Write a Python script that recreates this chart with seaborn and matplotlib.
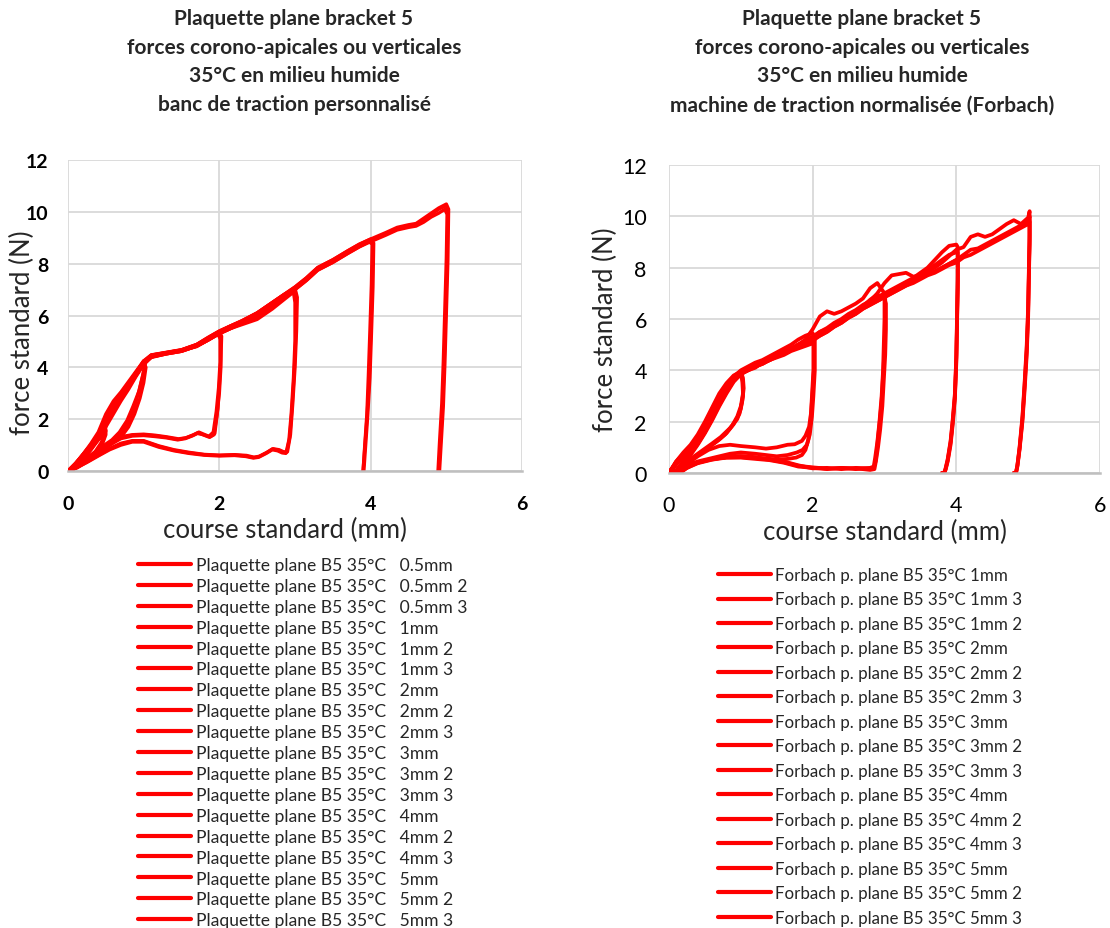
import matplotlib
matplotlib.use("Agg")
import matplotlib.pyplot as plt
import numpy as np
import pandas as pd
import seaborn as sns

# ---------------- left panel : banc de traction personnalise ----------------
left_labels = ["Plaquette plane B5 35°C   0.5mm", "Plaquette plane B5 35°C   0.5mm 2",
               "Plaquette plane B5 35°C   0.5mm 3", "Plaquette plane B5 35°C   1mm",
               "Plaquette plane B5 35°C   1mm 2", "Plaquette plane B5 35°C   1mm 3",
               "Plaquette plane B5 35°C   2mm", "Plaquette plane B5 35°C   2mm 2",
               "Plaquette plane B5 35°C   2mm 3", "Plaquette plane B5 35°C   3mm",
               "Plaquette plane B5 35°C   3mm 2", "Plaquette plane B5 35°C   3mm 3",
               "Plaquette plane B5 35°C   4mm", "Plaquette plane B5 35°C   4mm 2",
               "Plaquette plane B5 35°C   4mm 3", "Plaquette plane B5 35°C   5mm",
               "Plaquette plane B5 35°C   5mm 2", "Plaquette plane B5 35°C   5mm 3"]

l05a_x = [0, 0.08, 0.16, 0.25, 0.33, 0.42, 0.5, 0.48, 0.42, 0.33, 0.22, 0.12, 0]
l05a_y = [0, 0.2, 0.45, 0.8, 1.1, 1.45, 1.75, 1.3, 0.85, 0.55, 0.3, 0.12, 0]
l05b_x = [0, 0.1, 0.2, 0.3, 0.4, 0.5, 0.5, 0.45, 0.35, 0.25, 0.15, 0.05, 0]
l05b_y = [0, 0.3, 0.6, 0.95, 1.3, 1.6, 1.4, 1.0, 0.65, 0.4, 0.2, 0.05, 0]
l05c_x = [0, 0.1, 0.2, 0.3, 0.4, 0.48, 0.5, 0.44, 0.36, 0.26, 0.16, 0.06, 0]
l05c_y = [0, 0.25, 0.55, 0.85, 1.2, 1.5, 1.55, 1.1, 0.75, 0.45, 0.22, 0.06, 0]

l1a_x = [0, 0.1, 0.2, 0.3, 0.4, 0.5, 0.6, 0.7, 0.8, 0.9, 1.0, 1.02, 0.98, 0.93, 0.87, 0.8, 0.7, 0.6, 0.5, 0.4, 0.3, 0.2, 0.1, 0]
l1a_y = [0, 0.25, 0.6, 0.95, 1.4, 2.05, 2.55, 2.95, 3.35, 3.8, 4.2, 4.1, 3.6, 3.0, 2.4, 1.9, 1.4, 1.15, 0.95, 0.75, 0.55, 0.35, 0.15, 0]
l1b_x = [0, 0.1, 0.2, 0.3, 0.4, 0.5, 0.6, 0.7, 0.8, 0.9, 1.0, 1.03, 1.0, 0.95, 0.88, 0.8, 0.7, 0.6, 0.5, 0.4, 0.3, 0.2, 0.1, 0]
l1b_y = [0, 0.2, 0.5, 0.85, 1.25, 1.8, 2.35, 2.85, 3.3, 3.75, 4.15, 4.0, 3.4, 2.8, 2.2, 1.7, 1.3, 1.1, 0.9, 0.7, 0.5, 0.3, 0.12, 0]
l1c_x = [0, 0.1, 0.2, 0.3, 0.4, 0.5, 0.6, 0.7, 0.8, 0.9, 1.0, 1.02, 0.99, 0.94, 0.86, 0.78, 0.68, 0.58, 0.48, 0.38, 0.28, 0.18, 0.08, 0]
l1c_y = [0, 0.3, 0.65, 1.05, 1.5, 2.2, 2.7, 3.05, 3.45, 3.85, 4.25, 4.15, 3.7, 3.1, 2.5, 1.95, 1.5, 1.2, 1.0, 0.78, 0.58, 0.38, 0.18, 0]

l2a_x = [0, 0.1, 0.2, 0.3, 0.4, 0.5, 0.6, 0.7, 0.8, 0.9, 1.0, 1.1, 1.3, 1.5, 1.7, 1.85, 2.0, 2.02, 2.02, 2.0, 1.97, 1.93, 1.87, 1.8, 1.72, 1.65, 1.55, 1.45, 1.3, 1.15, 1.0, 0.85, 0.7, 0.55, 0.4, 0.3, 0.2, 0.1, 0]
l2a_y = [0, 0.25, 0.6, 0.95, 1.35, 2.0, 2.5, 2.9, 3.3, 3.75, 4.2, 4.45, 4.55, 4.65, 4.85, 5.1, 5.35, 5.0, 4.0, 3.0, 2.2, 1.4, 1.3, 1.38, 1.48, 1.38, 1.27, 1.22, 1.3, 1.36, 1.4, 1.38, 1.3, 1.05, 0.75, 0.55, 0.35, 0.15, 0]
l2b_x = [0, 0.1, 0.2, 0.3, 0.4, 0.5, 0.6, 0.7, 0.8, 0.9, 1.0, 1.1, 1.3, 1.5, 1.7, 1.85, 1.98, 2.01, 2.01, 1.99, 1.96, 1.92, 1.86, 1.79, 1.71, 1.64, 1.55, 1.45, 1.3, 1.15, 1.0, 0.85, 0.7, 0.55, 0.4, 0.3, 0.2, 0.1, 0]
l2b_y = [0, 0.2, 0.55, 0.9, 1.3, 1.85, 2.4, 2.85, 3.25, 3.7, 4.15, 4.4, 4.55, 4.65, 4.8, 5.05, 5.3, 5.1, 4.2, 3.2, 2.3, 1.5, 1.33, 1.4, 1.45, 1.35, 1.25, 1.2, 1.28, 1.33, 1.37, 1.35, 1.25, 1.0, 0.72, 0.52, 0.32, 0.14, 0]
l2c_x = [0, 0.1, 0.2, 0.3, 0.4, 0.5, 0.6, 0.7, 0.8, 0.9, 1.0, 1.1, 1.3, 1.5, 1.7, 1.85, 2.0, 2.03, 2.02, 2.0, 1.98, 1.94, 1.88, 1.81, 1.73, 1.66, 1.56, 1.46, 1.3, 1.15, 1.0, 0.85, 0.7, 0.55, 0.4, 0.3, 0.2, 0.1, 0]
l2c_y = [0, 0.28, 0.62, 1.0, 1.4, 2.1, 2.6, 3.0, 3.4, 3.8, 4.25, 4.48, 4.58, 4.68, 4.88, 5.12, 5.38, 5.2, 4.3, 3.3, 2.4, 1.45, 1.32, 1.4, 1.5, 1.4, 1.28, 1.24, 1.32, 1.38, 1.42, 1.4, 1.32, 1.08, 0.78, 0.56, 0.36, 0.16, 0]

l3a_x = [0, 0.1, 0.2, 0.3, 0.4, 0.5, 0.6, 0.7, 0.8, 0.9, 1.0, 1.1, 1.3, 1.5, 1.7, 1.85, 2.0, 2.15, 2.3, 2.5, 2.7, 2.85, 3.0, 3.02, 3.01, 2.99, 2.96, 2.93, 2.89, 2.84, 2.78, 2.7, 2.62, 2.52, 2.45, 2.35, 2.2, 2.0, 1.8, 1.6, 1.4, 1.2, 1.0, 0.85, 0.7, 0.55, 0.4, 0.25, 0.12, 0]
l3a_y = [0, 0.2, 0.5, 0.85, 1.25, 1.8, 2.3, 2.8, 3.25, 3.7, 4.15, 4.4, 4.55, 4.65, 4.85, 5.1, 5.35, 5.55, 5.7, 6.0, 6.4, 6.7, 7.0, 6.6, 5.2, 3.8, 2.4, 1.3, 0.72, 0.72, 0.8, 0.85, 0.7, 0.55, 0.52, 0.58, 0.62, 0.6, 0.63, 0.7, 0.8, 0.95, 1.15, 1.15, 1.05, 0.85, 0.6, 0.35, 0.15, 0]
l3b_x = [0, 0.1, 0.2, 0.3, 0.4, 0.5, 0.6, 0.7, 0.8, 0.9, 1.0, 1.1, 1.3, 1.5, 1.7, 1.85, 2.0, 2.15, 2.3, 2.5, 2.7, 2.85, 2.98, 3.0, 3.0, 2.98, 2.95, 2.92, 2.88, 2.83, 2.77, 2.7, 2.62, 2.52, 2.45, 2.35, 2.2, 2.0, 1.8, 1.6, 1.4, 1.2, 1.0, 0.85, 0.7, 0.55, 0.4, 0.25, 0.12, 0]
l3b_y = [0, 0.15, 0.45, 0.8, 1.2, 1.7, 2.2, 2.7, 3.15, 3.65, 4.1, 4.38, 4.52, 4.62, 4.82, 5.05, 5.3, 5.5, 5.65, 5.85, 6.25, 6.6, 6.9, 6.5, 5.0, 3.6, 2.2, 1.2, 0.68, 0.7, 0.78, 0.82, 0.68, 0.53, 0.5, 0.56, 0.6, 0.58, 0.61, 0.68, 0.78, 0.92, 1.12, 1.12, 1.0, 0.82, 0.58, 0.33, 0.14, 0]
l3c_x = [0, 0.1, 0.2, 0.3, 0.4, 0.5, 0.6, 0.7, 0.8, 0.9, 1.0, 1.1, 1.3, 1.5, 1.7, 1.85, 2.0, 2.15, 2.3, 2.5, 2.7, 2.85, 3.0, 3.03, 3.02, 3.0, 2.97, 2.94, 2.9, 2.85, 2.79, 2.71, 2.63, 2.53, 2.46, 2.36, 2.2, 2.0, 1.8, 1.6, 1.4, 1.2, 1.0, 0.85, 0.7, 0.55, 0.4, 0.25, 0.12, 0]
l3c_y = [0, 0.22, 0.55, 0.9, 1.3, 1.9, 2.4, 2.85, 3.3, 3.75, 4.2, 4.42, 4.56, 4.66, 4.86, 5.12, 5.38, 5.6, 5.78, 6.1, 6.5, 6.8, 7.05, 6.7, 5.4, 4.0, 2.6, 1.4, 0.74, 0.74, 0.82, 0.86, 0.72, 0.57, 0.53, 0.6, 0.63, 0.61, 0.64, 0.72, 0.82, 0.97, 1.17, 1.17, 1.07, 0.87, 0.62, 0.36, 0.16, 0]

l4a_x = [0, 0.1, 0.2, 0.3, 0.4, 0.5, 0.6, 0.7, 0.8, 0.9, 1.0, 1.1, 1.3, 1.5, 1.7, 1.85, 2.0, 2.15, 2.3, 2.5, 2.7, 2.85, 3.0, 3.15, 3.3, 3.5, 3.7, 3.85, 4.0, 4.03, 4.02, 4.0, 3.98, 3.95, 3.92, 3.9]
l4a_y = [0, 0.25, 0.6, 0.95, 1.35, 1.95, 2.5, 2.9, 3.3, 3.75, 4.2, 4.45, 4.55, 4.65, 4.85, 5.1, 5.35, 5.55, 5.75, 6.05, 6.45, 6.75, 7.05, 7.4, 7.8, 8.1, 8.45, 8.7, 8.9, 8.7, 7.0, 5.2, 3.5, 2.0, 0.8, 0]
l4b_x = [0, 0.1, 0.2, 0.3, 0.4, 0.5, 0.6, 0.7, 0.8, 0.9, 1.0, 1.1, 1.3, 1.5, 1.7, 1.85, 2.0, 2.15, 2.3, 2.5, 2.7, 2.85, 3.0, 3.15, 3.3, 3.5, 3.7, 3.85, 3.98, 4.02, 4.01, 3.99, 3.97, 3.95, 3.92, 3.9]
l4b_y = [0, 0.2, 0.5, 0.85, 1.25, 1.8, 2.35, 2.8, 3.25, 3.7, 4.15, 4.4, 4.52, 4.62, 4.82, 5.05, 5.3, 5.5, 5.7, 5.95, 6.35, 6.7, 7.0, 7.35, 7.75, 8.05, 8.4, 8.65, 8.85, 8.75, 7.2, 5.4, 3.7, 2.2, 0.9, 0]
l4c_x = [0, 0.1, 0.2, 0.3, 0.4, 0.5, 0.6, 0.7, 0.8, 0.9, 1.0, 1.1, 1.3, 1.5, 1.7, 1.85, 2.0, 2.15, 2.3, 2.5, 2.7, 2.85, 3.0, 3.15, 3.3, 3.5, 3.7, 3.85, 4.0, 4.04, 4.03, 4.01, 3.99, 3.96, 3.93, 3.91]
l4c_y = [0, 0.28, 0.65, 1.0, 1.4, 2.05, 2.55, 2.95, 3.35, 3.8, 4.22, 4.47, 4.57, 4.67, 4.88, 5.15, 5.4, 5.6, 5.8, 6.1, 6.5, 6.8, 7.1, 7.45, 7.85, 8.15, 8.5, 8.75, 8.95, 8.8, 7.1, 5.3, 3.6, 2.1, 0.85, 0]

l5a_x = [0, 0.1, 0.2, 0.3, 0.4, 0.5, 0.6, 0.7, 0.8, 0.9, 1.0, 1.1, 1.3, 1.5, 1.7, 1.85, 2.0, 2.15, 2.3, 2.5, 2.7, 2.85, 3.0, 3.15, 3.3, 3.5, 3.7, 3.85, 4.0, 4.2, 4.35, 4.5, 4.6, 4.7, 4.8, 4.9, 5.0, 5.02, 5.01, 4.99, 4.97, 4.95, 4.92, 4.9]
l5a_y = [0, 0.25, 0.6, 0.95, 1.35, 1.95, 2.5, 2.9, 3.3, 3.75, 4.2, 4.45, 4.55, 4.65, 4.85, 5.1, 5.35, 5.55, 5.75, 6.05, 6.45, 6.75, 7.05, 7.4, 7.8, 8.1, 8.45, 8.7, 8.9, 9.15, 9.35, 9.45, 9.5, 9.7, 9.9, 10.1, 10.25, 10.0, 8.0, 6.0, 4.0, 2.5, 1.0, 0]
l5b_x = [0, 0.1, 0.2, 0.3, 0.4, 0.5, 0.6, 0.7, 0.8, 0.9, 1.0, 1.1, 1.3, 1.5, 1.7, 1.85, 2.0, 2.15, 2.3, 2.5, 2.7, 2.85, 3.0, 3.15, 3.3, 3.5, 3.7, 3.85, 4.0, 4.2, 4.35, 4.5, 4.6, 4.7, 4.8, 4.9, 4.98, 5.01, 5.0, 4.98, 4.96, 4.94, 4.91, 4.89]
l5b_y = [0, 0.2, 0.5, 0.85, 1.25, 1.8, 2.35, 2.8, 3.25, 3.7, 4.15, 4.4, 4.52, 4.62, 4.82, 5.05, 5.3, 5.5, 5.7, 5.95, 6.35, 6.7, 7.0, 7.35, 7.75, 8.05, 8.4, 8.65, 8.85, 9.1, 9.3, 9.4, 9.45, 9.6, 9.8, 9.95, 10.1, 9.9, 8.2, 6.2, 4.2, 2.6, 1.1, 0]
l5c_x = [0, 0.1, 0.2, 0.3, 0.4, 0.5, 0.6, 0.7, 0.8, 0.9, 1.0, 1.1, 1.3, 1.5, 1.7, 1.85, 2.0, 2.15, 2.3, 2.5, 2.7, 2.85, 3.0, 3.15, 3.3, 3.5, 3.7, 3.85, 4.0, 4.2, 4.35, 4.5, 4.6, 4.7, 4.8, 4.9, 5.0, 5.03, 5.02, 5.0, 4.98, 4.96, 4.93, 4.91]
l5c_y = [0, 0.28, 0.65, 1.0, 1.4, 2.05, 2.55, 2.95, 3.35, 3.8, 4.22, 4.47, 4.57, 4.67, 4.88, 5.15, 5.4, 5.6, 5.8, 6.1, 6.5, 6.8, 7.1, 7.45, 7.85, 8.15, 8.5, 8.75, 8.95, 9.2, 9.4, 9.5, 9.55, 9.75, 9.95, 10.15, 10.3, 10.1, 8.1, 6.1, 4.1, 2.5, 1.0, 0]

left_x = [l05a_x, l05b_x, l05c_x, l1a_x, l1b_x, l1c_x, l2a_x, l2b_x, l2c_x,
          l3a_x, l3b_x, l3c_x, l4a_x, l4b_x, l4c_x, l5a_x, l5b_x, l5c_x]
left_y = [l05a_y, l05b_y, l05c_y, l1a_y, l1b_y, l1c_y, l2a_y, l2b_y, l2c_y,
          l3a_y, l3b_y, l3c_y, l4a_y, l4b_y, l4c_y, l5a_y, l5b_y, l5c_y]

# ---------------- right panel : machine de traction (Forbach) ----------------
right_labels = ["Forbach p. plane B5 35°C 1mm", "Forbach p. plane B5 35°C 1mm 3",
                "Forbach p. plane B5 35°C 1mm 2", "Forbach p. plane B5 35°C 2mm",
                "Forbach p. plane B5 35°C 2mm 2", "Forbach p. plane B5 35°C 2mm 3",
                "Forbach p. plane B5 35°C 3mm", "Forbach p. plane B5 35°C 3mm 2",
                "Forbach p. plane B5 35°C 3mm 3", "Forbach p. plane B5 35°C 4mm",
                "Forbach p. plane B5 35°C 4mm 2", "Forbach p. plane B5 35°C 4mm 3",
                "Forbach p. plane B5 35°C 5mm", "Forbach p. plane B5 35°C 5mm 2",
                "Forbach p. plane B5 35°C 5mm 3"]

# sampling positions of the loading phase (mm)
grid_x = [0.0, 0.1, 0.2, 0.3, 0.4, 0.5, 0.6, 0.7, 0.8, 0.9, 1.0, 1.1, 1.2, 1.3, 1.4, 1.5, 1.6,
          1.7, 1.8, 1.9, 2.0, 2.1, 2.2, 2.3, 2.4, 2.5, 2.6, 2.7, 2.8, 2.9, 3.0, 3.1, 3.2, 3.3,
          3.4, 3.5, 3.6, 3.7, 3.8, 3.9, 4.0, 4.1, 4.2, 4.3, 4.4, 4.5, 4.6, 4.7, 4.8, 4.9, 5.0]

r1a_load = [0, 0.45, 0.8, 1.1, 1.5, 2.0, 2.55, 3.1, 3.5, 3.8, 3.95]
r1a_back_x = [1.03, 1.04, 1.02, 0.98, 0.9, 0.8, 0.7, 0.6, 0.5, 0.4, 0.3, 0.2, 0.13, 0.12]
r1a_back_y = [3.7, 3.3, 2.8, 2.3, 1.9, 1.55, 1.3, 1.1, 0.9, 0.7, 0.5, 0.3, 0.1, 0]
r1c_load = [0, 0.05, 0.4, 0.75, 1.15, 1.6, 2.1, 2.7, 3.2, 3.6, 3.85]
r1c_back_x = [1.02, 1.03, 1.0, 0.95, 0.88, 0.78, 0.65, 0.5, 0.35, 0.2, 0.14]
r1c_back_y = [3.6, 3.1, 2.6, 2.2, 1.85, 1.5, 1.2, 0.9, 0.6, 0.3, 0]
r1b_load = [0, 0.4, 0.7, 1.0, 1.35, 1.85, 2.4, 2.95, 3.4, 3.75, 3.95]
r1b_back_x = [1.03, 1.03, 1.0, 0.95, 0.85, 0.72, 0.6, 0.45, 0.3, 0.18, 0.12]
r1b_back_y = [3.5, 3.0, 2.5, 2.1, 1.75, 1.4, 1.15, 0.85, 0.55, 0.25, 0]

r2a_load = [0, 0.35, 0.65, 0.9, 1.25, 1.7, 2.2, 2.75, 3.25, 3.65, 3.9, 4.0, 4.15, 4.25, 4.4, 4.5, 4.6, 4.75, 4.85, 4.95, 5.05]
r2a_back_x = [2.02, 2.02, 2.0, 1.98, 1.95, 1.9, 1.85, 1.75, 1.65, 1.5, 1.35, 1.2, 1.0, 0.85, 0.7, 0.55, 0.4, 0.3, 0.2, 0.13]
r2a_back_y = [5.0, 4.2, 3.2, 2.4, 1.8, 1.45, 1.25, 1.12, 1.1, 1.0, 0.95, 1.0, 1.05, 1.1, 1.05, 0.9, 0.65, 0.45, 0.25, 0]
r2b_load = [0, 0.45, 0.75, 1.0, 1.35, 1.8, 2.3, 2.85, 3.35, 3.75, 4.0, 4.15, 4.3, 4.4, 4.55, 4.7, 4.85, 5.0, 5.2, 5.35, 5.45]
r2b_back_x = [2.03, 2.03, 2.01, 1.99, 1.96, 1.92, 1.86, 1.78, 1.65, 1.5, 1.35, 1.2, 1.0, 0.85, 0.7, 0.55, 0.4, 0.3, 0.2, 0.12]
r2b_back_y = [5.2, 4.0, 3.0, 2.2, 1.5, 1.1, 0.9, 0.8, 0.7, 0.65, 0.7, 0.75, 0.8, 0.75, 0.65, 0.55, 0.45, 0.35, 0.2, 0]
r2c_load = [0, 0.05, 0.35, 0.7, 1.1, 1.55, 2.05, 2.6, 3.1, 3.55, 3.85, 4.0, 4.1, 4.3, 4.4, 4.55, 4.65, 4.8, 4.9, 5.05, 5.2]
r2c_back_x = [2.01, 2.01, 1.99, 1.97, 1.94, 1.9, 1.85, 1.77, 1.65, 1.5, 1.35, 1.2, 1.0, 0.85, 0.7, 0.55, 0.4, 0.3, 0.2, 0.14]
r2c_back_y = [5.0, 4.0, 3.0, 2.0, 1.3, 0.9, 0.7, 0.6, 0.55, 0.52, 0.55, 0.62, 0.66, 0.64, 0.58, 0.5, 0.4, 0.3, 0.15, 0]

r3a_load = [0, 0.4, 0.7, 0.95, 1.3, 1.75, 2.25, 2.8, 3.3, 3.7, 3.95, 4.1, 4.2, 4.35, 4.45, 4.6, 4.75, 4.85, 5.0, 5.15, 5.3, 5.5, 5.6, 5.8, 5.95, 6.15, 6.3, 6.5, 6.6, 6.75, 6.85]
r3a_back_x = [3.0, 3.0, 2.99, 2.98, 2.96, 2.93, 2.9, 2.87, 2.85, 2.8, 2.6, 2.4, 2.2, 2.0, 1.8, 1.6, 1.4, 1.2, 1.0, 0.8, 0.6, 0.4, 0.25, 0.14]
r3a_back_y = [6.9, 6.0, 5.0, 4.0, 3.0, 2.0, 1.2, 0.6, 0.25, 0.2, 0.15, 0.2, 0.15, 0.2, 0.25, 0.4, 0.5, 0.55, 0.6, 0.6, 0.55, 0.4, 0.2, 0]
r3b_load = [0, 0.35, 0.65, 0.95, 1.3, 1.7, 2.2, 2.7, 3.2, 3.65, 3.9, 4.05, 4.15, 4.3, 4.45, 4.55, 4.7, 4.8, 5.0, 5.2, 5.6, 6.1, 6.3, 6.2, 6.3, 6.45, 6.6, 6.8, 7.2, 7.4, 7.0]
r3b_back_x = [3.01, 3.01, 3.0, 2.98, 2.96, 2.93, 2.9, 2.88, 2.85, 2.8, 2.6, 2.4, 2.2, 2.0, 1.8, 1.6, 1.4, 1.2, 1.0, 0.8, 0.6, 0.4, 0.25, 0.13]
r3b_back_y = [6.8, 5.8, 4.8, 3.8, 2.8, 1.9, 1.1, 0.5, 0.2, 0.18, 0.2, 0.15, 0.2, 0.18, 0.3, 0.45, 0.55, 0.6, 0.65, 0.62, 0.55, 0.42, 0.22, 0]
r3c_load = [0, 0.1, 0.45, 0.8, 1.15, 1.6, 2.1, 2.65, 3.15, 3.6, 3.85, 4.0, 4.15, 4.25, 4.4, 4.55, 4.65, 4.8, 4.95, 5.1, 5.25, 5.4, 5.6, 5.75, 5.95, 6.1, 6.3, 6.5, 6.75, 6.95, 6.8]
r3c_back_x = [3.02, 3.02, 3.01, 2.99, 2.97, 2.94, 2.91, 2.88, 2.86, 2.8, 2.6, 2.4, 2.2, 2.0, 1.8, 1.6, 1.4, 1.2, 1.0, 0.8, 0.6, 0.4, 0.25, 0.15]
r3c_back_y = [6.6, 5.6, 4.6, 3.6, 2.6, 1.7, 1.0, 0.45, 0.15, 0.12, 0.18, 0.2, 0.17, 0.22, 0.28, 0.42, 0.52, 0.58, 0.62, 0.6, 0.52, 0.38, 0.2, 0]

r4a_load = [0, 0.4, 0.7, 0.95, 1.3, 1.75, 2.25, 2.8, 3.3, 3.7, 3.95, 4.1, 4.2, 4.35, 4.45, 4.6, 4.7, 4.85, 4.95, 5.1, 5.25, 5.45, 5.6, 5.8, 5.95, 6.15, 6.3, 6.5, 6.7, 7.0, 7.4, 7.7, 7.75, 7.8, 7.65, 7.7, 7.9, 8.1, 8.3, 8.5, 8.6]
r4b_load = [0, 0.35, 0.65, 0.9, 1.25, 1.7, 2.2, 2.75, 3.25, 3.65, 3.9, 4.05, 4.15, 4.3, 4.4, 4.55, 4.65, 4.8, 4.9, 5.05, 5.2, 5.35, 5.5, 5.7, 5.85, 6.05, 6.2, 6.4, 6.55, 6.7, 6.85, 7.0, 7.15, 7.3, 7.45, 7.6, 7.75, 7.85, 8.0, 8.15, 8.3]
r4c_load = [0, 0.05, 0.4, 0.75, 1.15, 1.6, 2.15, 2.7, 3.2, 3.6, 3.9, 4.05, 4.2, 4.3, 4.45, 4.6, 4.7, 4.85, 5.0, 5.1, 5.3, 5.5, 5.65, 5.85, 6.0, 6.2, 6.35, 6.55, 6.7, 6.85, 7.0, 7.15, 7.3, 7.45, 7.6, 7.8, 8.0, 8.3, 8.6, 8.85, 8.9]
r4_back_x = [4.02, 4.02, 4.01, 4.0, 3.98, 3.95, 3.92, 3.88, 3.85, 3.83, 3.8]
r4a_back_y = [8.6, 7.5, 6.0, 4.5, 3.0, 2.0, 1.2, 0.5, 0.15, 0, 0]
r4b_back_y = [8.3, 7.2, 5.8, 4.3, 2.9, 1.9, 1.1, 0.45, 0.12, 0, 0]
r4c_back_y = [8.8, 7.7, 6.2, 4.6, 3.1, 2.1, 1.25, 0.55, 0.18, 0, 0]

r5a_load = [0, 0.4, 0.7, 0.95, 1.3, 1.75, 2.25, 2.8, 3.3, 3.7, 3.95, 4.1, 4.2, 4.35, 4.45, 4.6, 4.7, 4.85, 4.95, 5.1, 5.2, 5.4, 5.55, 5.75, 5.9, 6.1, 6.25, 6.45, 6.6, 6.75, 6.9, 7.05, 7.2, 7.35, 7.45, 7.6, 7.75, 7.85, 8.0, 8.15, 8.3, 8.5, 8.7, 8.75, 8.9, 9.05, 9.2, 9.35, 9.5, 9.65, 9.8]
r5b_load = [0, 0.35, 0.65, 0.9, 1.25, 1.7, 2.2, 2.75, 3.25, 3.65, 3.9, 4.05, 4.15, 4.3, 4.4, 4.55, 4.65, 4.8, 4.9, 5.05, 5.15, 5.35, 5.5, 5.7, 5.85, 6.05, 6.2, 6.4, 6.55, 6.7, 6.85, 7.0, 7.15, 7.3, 7.4, 7.55, 7.7, 7.8, 7.95, 8.1, 8.2, 8.4, 8.5, 8.65, 8.8, 8.95, 9.1, 9.25, 9.4, 9.55, 9.7]
r5c_load = [0, 0.1, 0.45, 0.8, 1.2, 1.65, 2.15, 2.7, 3.2, 3.6, 3.9, 4.05, 4.2, 4.3, 4.45, 4.6, 4.7, 4.85, 5.0, 5.15, 5.3, 5.45, 5.6, 5.8, 5.95, 6.15, 6.3, 6.5, 6.65, 6.8, 6.95, 7.1, 7.25, 7.4, 7.55, 7.7, 7.85, 8.0, 8.2, 8.45, 8.7, 8.8, 9.2, 9.3, 9.2, 9.3, 9.5, 9.7, 9.85, 9.7, 9.95]
r5_back_x = [5.02, 5.02, 5.01, 5.0, 4.98, 4.95, 4.92, 4.88, 4.85, 4.83, 4.8]
r5a_back_y = [10.0, 9.1, 7.8, 6.3, 4.8, 3.4, 2.1, 0.95, 0.3, 0, 0]
r5b_back_y = [9.8, 8.9, 7.6, 6.1, 4.6, 3.2, 2.0, 0.9, 0.25, 0, 0]
r5c_back_y = [10.2, 9.3, 8.0, 6.5, 5.0, 3.5, 2.2, 1.0, 0.3, 0, 0]

right_load = [r1a_load, r1c_load, r1b_load, r2a_load, r2b_load, r2c_load,
              r3a_load, r3b_load, r3c_load, r4a_load, r4b_load, r4c_load,
              r5a_load, r5b_load, r5c_load]
right_back_x = [r1a_back_x, r1c_back_x, r1b_back_x, r2a_back_x, r2b_back_x, r2c_back_x,
                r3a_back_x, r3b_back_x, r3c_back_x, r4_back_x, r4_back_x, r4_back_x,
                r5_back_x, r5_back_x, r5_back_x]
right_back_y = [r1a_back_y, r1c_back_y, r1b_back_y, r2a_back_y, r2b_back_y, r2c_back_y,
                r3a_back_y, r3b_back_y, r3c_back_y, r4a_back_y, r4b_back_y, r4c_back_y,
                r5a_back_y, r5b_back_y, r5c_back_y]

right_x = [grid_x[:len(ld)] + bx for ld, bx in zip(right_load, right_back_x)]
right_y = [ld + by for ld, by in zip(right_load, right_back_y)]

# ---------------- drawing ----------------
sns.set_theme(style="white")
plt.rcParams["font.family"] = ["Lato", "DejaVu Sans"]

RED = "#ff0000"
GRID = "#d9d9d9"


def long_table(labels, xs, ys):
    parts = []
    for lab, x, y in zip(labels, xs, ys):
        parts.append(pd.DataFrame({"x": x, "y": y, "serie": lab}))
    return pd.concat(parts, ignore_index=True)


def panel(ax, labels, xs, ys, bold_ticks, tick_pad_x, tick_pad_y, tick_size, lw):
    df = long_table(labels, xs, ys)
    sns.lineplot(data=df, x="x", y="y", hue="serie", hue_order=labels,
                 palette=[RED] * len(labels), sort=False, estimator=None,
                 lw=lw, ax=ax, legend=True)
    for ln in ax.get_lines():
        ln.set_solid_joinstyle("round")
        ln.set_solid_capstyle("round")
    ax.set_xlim(0, 6)
    ax.set_ylim(0, 12)
    ax.set_xticks([0, 2, 4, 6])
    ax.set_yticks([0, 2, 4, 6, 8, 10, 12])
    ax.grid(True, color=GRID, lw=1.3)
    ax.set_axisbelow(True)
    for s in ["top", "right", "left"]:
        ax.spines[s].set_visible(False)
    ax.spines["bottom"].set_color("#bfbfbf")
    ax.spines["bottom"].set_linewidth(1.8)
    ax.tick_params(axis="both", length=0, labelsize=tick_size, colors="black")
    ax.tick_params(axis="x", pad=tick_pad_x)
    ax.tick_params(axis="y", pad=tick_pad_y)
    ax.set_xlabel("")
    ax.set_ylabel("")
    if bold_ticks:
        for t in ax.get_xticklabels() + ax.get_yticklabels():
            t.set_fontweight("bold")
    handles, labs = ax.get_legend_handles_labels()
    ax.get_legend().remove()
    return handles, labs


fig = plt.figure(figsize=(11.1, 9.29), dpi=100)
W, H = 1110, 929
axL = fig.add_axes([68 / W, 1 - 472 / H, (522 - 68) / W, (472 - 161) / H])
axR = fig.add_axes([669 / W, 1 - 474 / H, (1100 - 669) / W, (474 - 166) / H])

hL, lL = panel(axL, left_labels, left_x, left_y, True, 17, 14, 14, 2.4)
hR, lR = panel(axR, right_labels, right_x, right_y, False, 16, 16, 15.5, 2.7)

title_common = "Plaquette plane bracket 5\nforces corono-apicales ou verticales\n35°C en milieu humide\n"
fig.text(294 / W, 1 - 62 / H, title_common + "banc de traction personnalisé",
         ha="center", va="center", fontsize=15, fontweight="bold", linespacing=1.55)
fig.text(862 / W, 1 - 62 / H, title_common + "machine de traction normalisée (Forbach)",
         ha="center", va="center", fontsize=15, fontweight="bold", linespacing=1.55)

fig.text(285 / W, 1 - 530 / H, "course standard (mm)", ha="center", va="center", fontsize=18.5)
fig.text(885 / W, 1 - 532 / H, "course standard (mm)", ha="center", va="center", fontsize=18.5)
fig.text(22 / W, 1 - 333 / H, "force standard (N)", ha="center", va="center",
         rotation=90, fontsize=18.5)
fig.text(605 / W, 1 - 330 / H, "force standard (N)", ha="center", va="center",
         rotation=90, fontsize=18.5)

for h in hL + hR:
    h.set_linewidth(3)

fig.legend(hL, lL, loc="upper left", bbox_to_anchor=(138 / W, 1 - 558 / H),
           frameon=False, fontsize=12.6, handlelength=3.0, handletextpad=0.3,
           labelspacing=0.28, borderaxespad=0, borderpad=0)
fig.legend(hR, lR, loc="upper left", bbox_to_anchor=(718 / W, 1 - 568 / H),
           frameon=False, fontsize=12.2, handlelength=3.1, handletextpad=0.25,
           labelspacing=0.5, borderaxespad=0, borderpad=0)

fig.savefig("out.png", dpi=100)
